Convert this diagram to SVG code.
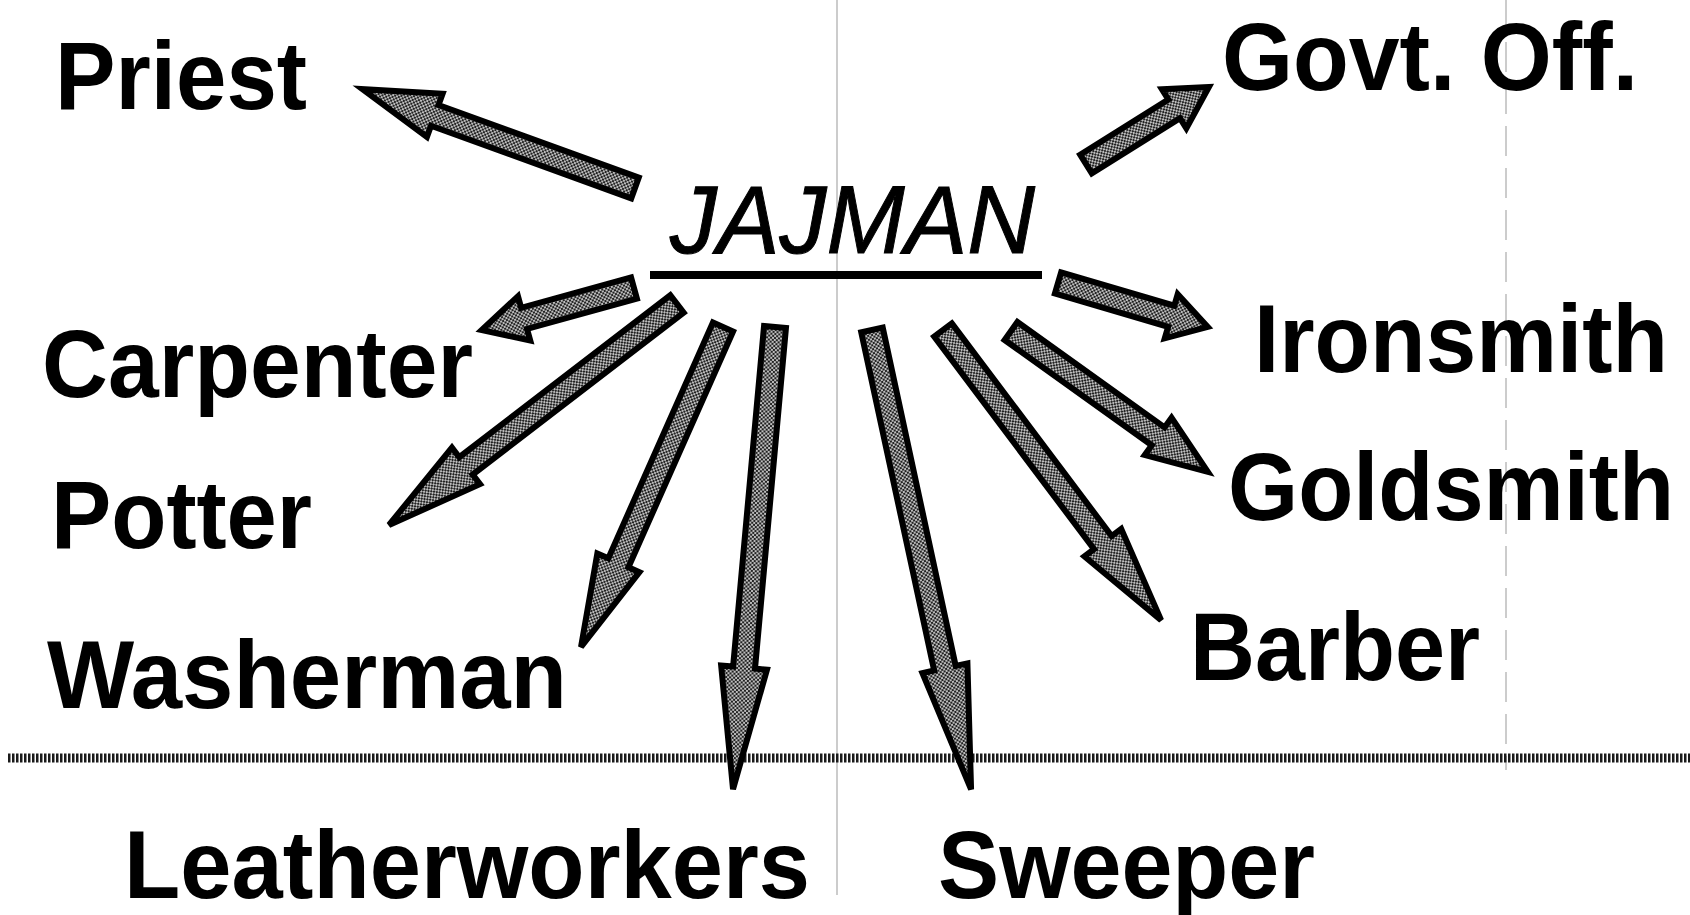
<svg xmlns="http://www.w3.org/2000/svg" width="1690" height="915" viewBox="0 0 1690 915">
  <defs>
    <pattern id="stip" width="4" height="4" patternUnits="userSpaceOnUse">
      <rect width="4" height="4" fill="#bdbdbd"/>
      <rect width="2" height="2" fill="#222"/>
      <rect x="2" y="2" width="2" height="2" fill="#222"/>
    </pattern>
  </defs>
  <style>
    .lbl { font-family: "Liberation Sans", Arial, sans-serif; font-weight: bold; font-size: 96px; fill: #000; }
    .hub { font-family: "Liberation Sans", Arial, sans-serif; font-style: italic; font-size: 96px; fill: #000; stroke: #000; stroke-width: 1; }
    .arr { fill: url(#stip); stroke: #000; stroke-width: 6; stroke-linejoin: miter; }
    .scan { stroke: #999; stroke-width: 1; fill: none; }
  </style>
  <rect width="1690" height="915" fill="#fff"/>

  <!-- faint scan fold lines -->
  <g id="scan-lines">
    <line class="scan" x1="837" y1="0" x2="837" y2="895"/>
    <line class="scan" x1="1506" y1="0" x2="1506" y2="770" stroke-dasharray="30 12" stroke="#d4d4d4"/>
  </g>

  <!-- horizontal dotted divider -->
  <g id="divider">
    <line x1="8" y1="758" x2="1690" y2="758" stroke="#1a1a1a" stroke-width="9" stroke-dasharray="2.5 1.5"/>
  </g>

  <g id="jajman">
    <text class="hub" x="670" y="253" textLength="365" lengthAdjust="spacingAndGlyphs">JAJMAN</text>
    <line x1="650" y1="275" x2="1042" y2="275" stroke="#000" stroke-width="8"/>
  </g>

  <g id="priest"><text class="lbl" x="55" y="109" textLength="252" lengthAdjust="spacingAndGlyphs">Priest</text></g>
  <g id="govt-off"><text class="lbl" x="1222" y="90" textLength="416" lengthAdjust="spacingAndGlyphs">Govt. Off.</text></g>
  <g id="carpenter"><text class="lbl" x="42" y="397" textLength="431" lengthAdjust="spacingAndGlyphs">Carpenter</text></g>
  <g id="ironsmith"><text class="lbl" x="1254" y="372" font-size="86" textLength="414" lengthAdjust="spacingAndGlyphs">Ironsmith</text></g>
  <g id="potter"><text class="lbl" x="51" y="548" textLength="261" lengthAdjust="spacingAndGlyphs">Potter</text></g>
  <g id="goldsmith"><text class="lbl" x="1228" y="520" font-size="86" textLength="446" lengthAdjust="spacingAndGlyphs">Goldsmith</text></g>
  <g id="washerman"><text class="lbl" x="47" y="708" textLength="520" lengthAdjust="spacingAndGlyphs">Washerman</text></g>
  <g id="barber"><text class="lbl" x="1190" y="680" textLength="290" lengthAdjust="spacingAndGlyphs">Barber</text></g>
  <g id="leatherworkers"><text class="lbl" x="124" y="898" textLength="686" lengthAdjust="spacingAndGlyphs">Leatherworkers</text></g>
  <g id="sweeper"><text class="lbl" x="938" y="898" textLength="377" lengthAdjust="spacingAndGlyphs">Sweeper</text></g>

  <g id="connectors">
    <!-- to Priest -->
    <g transform="translate(635,188) rotate(-160.07)"><path class="arr" d="M0,-11 H213 V-23 L290,0 L213,23 V11 H0 Z"/></g>
    <!-- to Govt. Off. -->
    <g transform="translate(1086,164) rotate(-32.05)"><path class="arr" d="M0,-11 H104 V-23 L145,0 L104,23 V11 H0 Z"/></g>
    <!-- to Carpenter -->
    <g transform="translate(634,288) rotate(164.55)"><path class="arr" d="M0,-11 H114 V-23 L158,0 L114,23 V11 H0 Z"/></g>
    <!-- to Potter -->
    <g transform="translate(677,304) rotate(142.5)"><path class="arr" d="M0,-11 H266 V-23 L363,0 L266,23 V11 H0 Z"/></g>
    <!-- to Washerman -->
    <g transform="translate(723,327) rotate(113.93)"><path class="arr" d="M0,-11 H258 V-23 L350,0 L258,23 V11 H0 Z"/></g>
    <!-- to Leatherworkers -->
    <g transform="translate(775,327) rotate(95.19)"><path class="arr" d="M0,-11 H342 V-23 L464,0 L342,23 V11 H0 Z"/></g>
    <!-- to Sweeper -->
    <g transform="translate(872,330) rotate(77.83)"><path class="arr" d="M0,-11 H346 V-23 L470,0 L346,23 V11 H0 Z"/></g>
    <!-- to Barber -->
    <g transform="translate(943,330) rotate(53.07)"><path class="arr" d="M0,-11 H266 V-23 L363,0 L266,23 V11 H0 Z"/></g>
    <!-- to Goldsmith -->
    <g transform="translate(1011,331) rotate(35.6)"><path class="arr" d="M0,-11 H181 V-23 L242,0 L181,23 V11 H0 Z"/></g>
    <!-- to Ironsmith -->
    <g transform="translate(1058,283) rotate(16.35)"><path class="arr" d="M0,-11 H118 V-23 L156,0 L118,23 V11 H0 Z"/></g>
  </g>
</svg>
